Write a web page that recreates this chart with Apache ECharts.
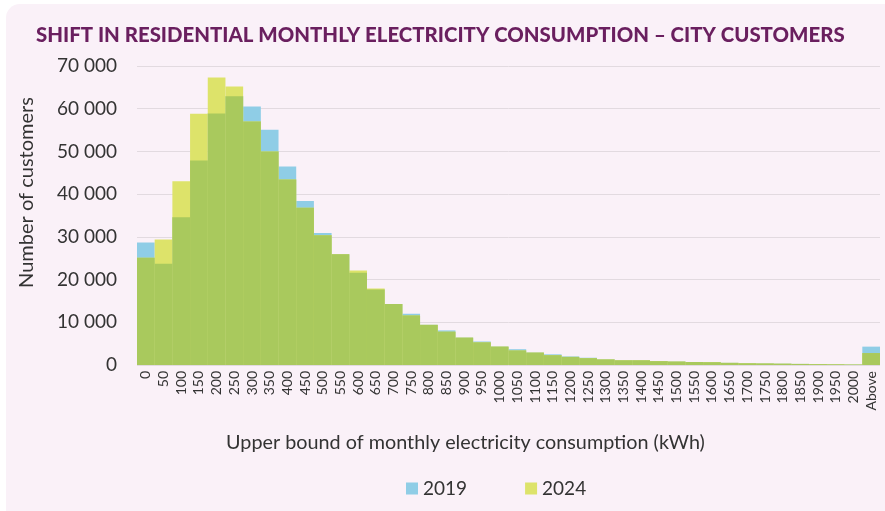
<!DOCTYPE html>
<html>
<head>
<meta charset="utf-8">
<script src="https://cdn.jsdelivr.net/npm/echarts@6/dist/echarts.min.js"></script>
<style>
    html, body { margin: 0; padding: 0; background: #ffffff; }
    #chart { width: 885px; height: 511px; }
</style>
</head>
<body>
<div id="chart"></div>
<script>
// upper bound of each consumption bin (kWh)
const bins = ['0', '50', '100', '150', '200', '250', '300', '350', '400', '450',
    '500', '550', '600', '650', '700', '750', '800', '850', '900', '950',
    '1000', '1050', '1100', '1150', '1200', '1250', '1300', '1350', '1400', '1450',
    '1500', '1550', '1600', '1650', '1700', '1750', '1800', '1850', '1900', '1950',
    '2000', 'Above'];

const customers2019 = [28700, 23700, 34600, 47900, 58900, 62900, 60500, 55100, 46500, 38400,
    30900, 25900, 21600, 17700, 14300, 12000, 9400, 8100, 6400, 5500,
    4300, 3700, 2900, 2500, 2000, 1700, 1300, 1100, 1100, 900,
    800, 700, 650, 500, 400, 350, 300, 250, 200, 150,
    100, 4300];

const customers2024 = [25100, 29400, 43000, 58800, 67300, 65200, 57000, 50000, 43400, 36800,
    30400, 25900, 22100, 17900, 14300, 11600, 9400, 7800, 6400, 5300,
    4300, 3400, 2900, 2300, 1900, 1600, 1300, 1100, 1100, 900,
    800, 700, 650, 500, 400, 350, 300, 250, 200, 150,
    100, 2800];

const yTicks = [0, 10000, 20000, 30000, 40000, 50000, 60000, 70000];

// where both years overlap the bars read as green
const overlap = customers2019.map((v, i) => Math.min(v, customers2024[i]));

const fontFamily = 'Lato, "Open Sans", sans-serif';

const chart = echarts.init(document.getElementById('chart'), null, { renderer: 'canvas' });

chart.setOption({
    backgroundColor: '#ffffff',
    animation: false,
    graphic: [{
        type: 'rect',
        z: -10,
        shape: { x: 6, y: 4, width: 900, height: 520, r: 14 },
        style: { fill: '#faf1f8' }
    }],
    title: {
        text: 'SHIFT IN RESIDENTIAL MONTHLY ELECTRICITY CONSUMPTION \u2013 CITY CUSTOMERS',
        left: 31,
        top: 20,
        textStyle: {
            color: '#6a1f5f',
            fontSize: 20.4,
            fontWeight: 900,
            fontFamily: fontFamily
        }
    },
    legend: {
        data: ['2019', '2024'],
        top: 474,
        left: 401,
        itemWidth: 12,
        itemHeight: 12,
        itemGap: 58,
        icon: 'rect',
        textStyle: { fontSize: 19, color: '#333', fontFamily: fontFamily }
    },
    grid: {
        left: 137,
        right: 5,
        top: 66,
        bottom: 146
    },
    xAxis: {
        type: 'category',
        data: bins,
        name: 'Upper bound of monthly electricity consumption (kWh)',
        nameLocation: 'middle',
        nameGap: 68,
        nameTextStyle: {
            fontSize: 19.8,
            color: '#333',
            fontFamily: fontFamily,
            padding: [0, 86, 0, 0]
        },
        axisLine: { show: false },
        axisTick: { show: false },
        axisLabel: {
            interval: 0,
            rotate: 90,
            fontSize: 14,
            color: '#333',
            fontFamily: fontFamily,
            margin: 6
        }
    },
    yAxis: {
        type: 'value',
        min: yTicks[0],
        max: yTicks[yTicks.length - 1],
        interval: yTicks[1] - yTicks[0],
        name: 'Number of customers',
        nameLocation: 'middle',
        nameGap: 100,
        nameTextStyle: {
            fontSize: 20,
            color: '#333',
            fontFamily: fontFamily,
            padding: [0, 0, 0, 46]
        },
        axisLabel: {
            fontSize: 19,
            color: '#333',
            fontFamily: fontFamily,
            margin: 20,
            formatter: v => String(v).replace(/\B(?=(\d{3})+(?!\d))/g, ' ')
        },
        splitLine: { lineStyle: { color: '#e2dae0', width: 1 } }
    },
    series: [
        {
            name: '2019',
            type: 'bar',
            data: customers2019,
            barWidth: '100%',
            barGap: '-100%',
            itemStyle: { color: '#8fcde6' }
        },
        {
            name: '2024',
            type: 'bar',
            data: customers2024,
            barWidth: '100%',
            barGap: '-100%',
            itemStyle: { color: '#dde36a' }
        },
        {
            name: 'overlap',
            type: 'bar',
            data: overlap,
            barWidth: '100%',
            barGap: '-100%',
            itemStyle: { color: '#a9c95d' }
        }
    ]
});
</script>
</body>
</html>
